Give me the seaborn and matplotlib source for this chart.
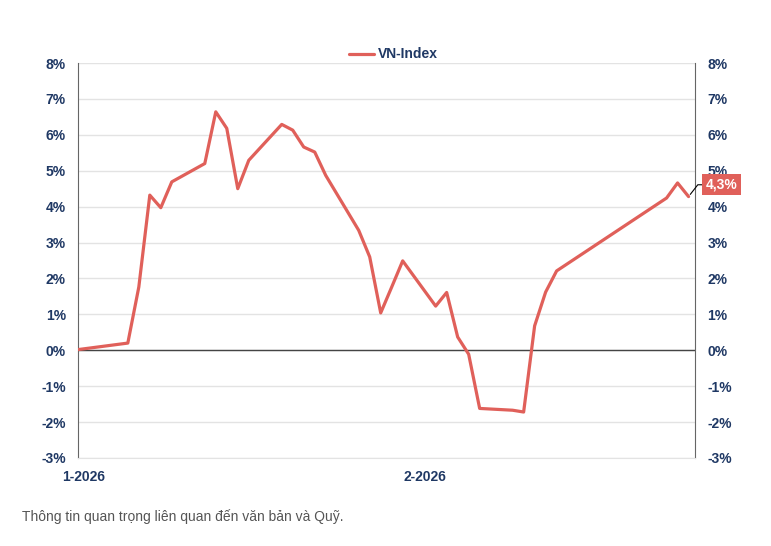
import pandas as pd
import matplotlib
matplotlib.use("Agg")
import matplotlib.pyplot as plt
import seaborn as sns

# VN-Index return since the start of 2026 (%)
dates = [
    "2025-12-31", "2026-01-05", "2026-01-06", "2026-01-07", "2026-01-08", "2026-01-09",
    "2026-01-12", "2026-01-13", "2026-01-14", "2026-01-15", "2026-01-16",
    "2026-01-19", "2026-01-20", "2026-01-21", "2026-01-22", "2026-01-23",
    "2026-01-26", "2026-01-27", "2026-01-28", "2026-01-29", "2026-01-30",
    "2026-02-02", "2026-02-03", "2026-02-04", "2026-02-05", "2026-02-06",
    "2026-02-09", "2026-02-10", "2026-02-11", "2026-02-12", "2026-02-13",
    "2026-02-23", "2026-02-24", "2026-02-25",
]
vnindex = [
    0.00, 0.20, 1.76, 4.32, 3.97, 4.69,
    5.20, 6.64, 6.18, 4.50, 5.29,
    6.29, 6.13, 5.66, 5.52, 4.87,
    3.34, 2.60, 1.04, 1.76, 2.49,
    1.23, 1.61, 0.37, -0.11, -1.62,
    -1.67, -1.72, 0.68, 1.62, 2.21,
    4.24, 4.66, 4.28,
]
month_ticks = ["2026-01-01", "2026-02-01"]
y_ticks = list(range(-3, 9))
series_name = "VN-Index"
footnote = "Thông tin quan trọng liên quan đến văn bản và Quỹ."

df = pd.DataFrame({"Date": pd.to_datetime(dates), "Return": vnindex})

navy = "#1f3864"
red = "#e0605a"

sns.set_style("white")
plt.rcParams["font.family"] = ["Liberation Sans", "DejaVu Sans"]

fig = plt.figure(figsize=(7.71, 5.46), dpi=100)
ax = fig.add_axes([0.1016, 0.1612, 0.7998, 0.7234])

sns.lineplot(x="Date", y="Return", data=df, ax=ax, color=red, linewidth=2.3,
             label=series_name, zorder=3)

# axes ranges and ticks
ax.set_ylim(-3, 8)
ax.set_xlim(df["Date"].iloc[0] + pd.Timedelta(hours=12),
            df["Date"].iloc[-1] + pd.Timedelta(hours=14))
ax.set_yticks(y_ticks)
ax.set_yticklabels([f"{v}%" for v in y_ticks])
tick_dates = pd.to_datetime(month_ticks)
ax.set_xticks(tick_dates)
ax.set_xticklabels([f"{d.month}-{d.year}" for d in tick_dates])
ax.tick_params(axis="y", length=0, pad=9, labelright=True, labelsize=10,
               labelcolor=navy)
ax.tick_params(axis="x", length=0, pad=9, labelsize=10, labelcolor=navy)
for lbl in ax.get_xticklabels() + ax.get_yticklabels():
    lbl.set_fontweight("bold")
ax.set_xlabel("")
ax.set_ylabel("")

# grid, zero line and spines
ax.grid(axis="y", color="#e3e3e3", linewidth=1)
ax.grid(axis="x", visible=False)
ax.axhline(0, color="#444444", linewidth=1, zorder=2)
ax.spines["top"].set_visible(False)
ax.spines["bottom"].set_color("#e3e3e3")
ax.spines["left"].set_color("#666666")
ax.spines["right"].set_color("#666666")

# legend on top
leg = ax.legend(loc="lower center", bbox_to_anchor=(0.511, 0.99), frameon=False,
                handlelength=1.8, handletextpad=0.25, borderaxespad=0,
                prop={"weight": "bold", "size": 10})
for t in leg.get_texts():
    t.set_color(navy)

# last value label
last_date = df["Date"].iloc[-1]
last_val = df["Return"].iloc[-1]
ax.annotate(f"{last_val:.1f}%".replace(".", ","), xy=(last_date, last_val),
            xytext=(12.5, 8.5), textcoords="offset points", ha="left", va="center",
            color="white", fontsize=10, fontweight="bold",
            bbox=dict(boxstyle="square,pad=0.25", fc=red, ec="none"),
            arrowprops=dict(arrowstyle="-", color="black", lw=0.8,
                            connectionstyle="angle,angleA=0,angleB=52,rad=0",
                            shrinkA=0, shrinkB=2),
            annotation_clip=False, zorder=5)

fig.text(22 / 771, 1 - 517 / 546, footnote, fontsize=10, color="#555555",
         ha="left", va="center")

fig.savefig("out.png", dpi=100)
